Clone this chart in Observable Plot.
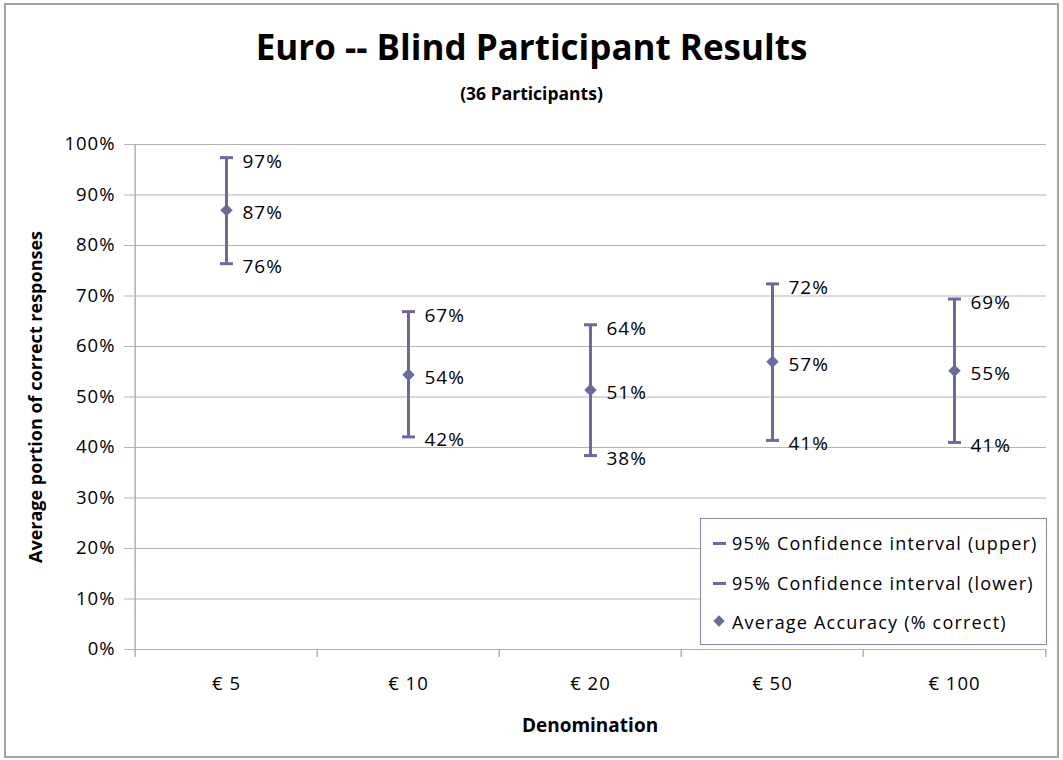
<!DOCTYPE html>
<html>
<head>
<meta charset="utf-8">
<script src="https://cdn.jsdelivr.net/npm/d3@7"></script>
<script src="https://cdn.jsdelivr.net/npm/@observablehq/plot@0.6"></script>
<style>
  html, body { margin: 0; padding: 0; background: #fff; }
  #wrap { position: relative; width: 1063px; height: 760px; overflow: hidden; font-family: "Open Sans", sans-serif; color: #000; }
  #border { position: absolute; left: 4px; top: 3px; width: 1055px; height: 755px; box-sizing: border-box; border: 2px solid #a3a3a3; pointer-events: none; }
  #title { position: absolute; left: 0; width: 1063px; top: 27px; text-align: center; font-weight: 700; font-size: 35px; line-height: 40px; }
  #subtitle { position: absolute; left: 0; width: 1063px; top: 81px; text-align: center; font-weight: 700; font-size: 17.5px; line-height: 24px; }
  #chart { position: absolute; left: 0; top: 0; }
  #chart svg text { letter-spacing: 1px; }
  #chart svg g[font-weight="bold"] text { letter-spacing: 0; }
  #legend { position: absolute; left: 700px; top: 518px; width: 347px; height: 127px; box-sizing: border-box; border: 1.5px solid #8585b5; background: #fff; }
  .row { position: absolute; left: 0; height: 30px; line-height: 30px; font-size: 18px; letter-spacing: 1.2px; white-space: nowrap; }
  .row .txt { position: absolute; left: 31px; top: 0; }
  .dash { position: absolute; left: 12px; top: 14px; width: 13px; height: 3px; }
  .diam { position: absolute; left: 14px; top: 10px; width: 8px; height: 8px; transform: rotate(45deg); }
</style>
</head>
<body>
<div id="wrap">
  <div id="chart"></div>
  <div id="title"></div>
  <div id="subtitle"></div>
  <div id="legend"></div>
  <div id="border"></div>
</div>
<script>
// ---- data ----
const titleText = "Euro -- Blind Participant Results";
const subtitleText = "(36 Participants)";
const xTitle = "Denomination";
const yTitle = "Average portion of correct responses";
const categories = ["€ 5", "€ 10", "€ 20", "€ 50", "€ 100"];
const upperCI = [0.974, 0.669, 0.643, 0.724, 0.694];
const meanAcc = [0.870, 0.544, 0.514, 0.570, 0.552];
const lowerCI = [0.764, 0.421, 0.384, 0.414, 0.410];
const yTicks = [0, 0.1, 0.2, 0.3, 0.4, 0.5, 0.6, 0.7, 0.8, 0.9, 1.0];
const legendLabels = [
  "95% Confidence interval (upper)",
  "95% Confidence interval (lower)",
  "Average Accuracy (% correct)"
];

// ---- build ----
const color = "#6a6a9f";
const gridColor = "#b3b3b3";
const rows = categories.map((c, i) => ({denom: c, upper: upperCI[i], mean: meanAcc[i], lower: lowerCI[i]}));
const fmt = d3.format(".0%");

const W = 1063, H = 760;
const mL = 133, mR = 17, mT = 144, mB = 111;
const step = (W - mL - mR) / categories.length;

const capSymbol = {
  draw(ctx, size) {
    const r = Math.sqrt(size / Math.PI);
    ctx.moveTo(-r, 0);
    ctx.lineTo(r, 0);
  }
};

const plot = Plot.plot({
  width: W,
  height: H,
  marginLeft: mL,
  marginRight: mR,
  marginTop: mT,
  marginBottom: mB,
  style: {fontFamily: "'Open Sans', sans-serif", fontSize: "18px", color: "#000", background: "transparent"},
  x: {type: "band", domain: categories, padding: 0, axis: null},
  y: {domain: [0, 1], axis: null},
  marks: [
    Plot.gridY(yTicks, {stroke: gridColor, strokeOpacity: 1, strokeWidth: 1.2}),
    // left axis line
    Plot.ruleX([categories[0]], {dx: -step / 2, stroke: gridColor, strokeWidth: 1.5}),
    // y axis
    Plot.axisY({ticks: yTicks, tickFormat: fmt, tickSize: 9, tickPadding: 9, stroke: gridColor, fill: "#000", fontSize: 18.5, label: null}),
    // x category labels
    Plot.axisX({tickSize: 0, tickPadding: 27, fill: "#000", fontSize: 18.5, label: null}),
    // x boundary ticks
    Plot.axisX({ticks: categories, tickFormat: () => "", tickSize: 8, dx: -step / 2, stroke: gridColor, strokeWidth: 1.5, label: null}),
    Plot.axisX({ticks: [categories[categories.length - 1]], tickFormat: () => "", tickSize: 8, dx: step / 2, stroke: gridColor, strokeWidth: 1.5, label: null}),
    // axis titles
    Plot.text([xTitle], {frameAnchor: "bottom", dy: 82, fontWeight: "bold", fontSize: 19, fill: "#000"}),
    Plot.text([yTitle], {frameAnchor: "left", textAnchor: "middle", rotate: -90, dx: -97, fontWeight: "bold", fontSize: 18, fill: "#000"}),
    // error bars
    Plot.ruleX(rows, {x: "denom", y1: "lower", y2: "upper", stroke: color, strokeWidth: 3}),
    Plot.dot(rows, {x: "denom", y: "upper", symbol: capSymbol, r: 6.5, stroke: color, strokeWidth: 3}),
    Plot.dot(rows, {x: "denom", y: "lower", symbol: capSymbol, r: 6.5, stroke: color, strokeWidth: 3}),
    Plot.dot(rows, {x: "denom", y: "mean", symbol: "diamond2", r: 5.6, fill: color, stroke: "none"}),
    // data labels
    Plot.text(rows, {x: "denom", y: "upper", text: d => fmt(d.upper), textAnchor: "start", dx: 16, dy: 4, fontSize: 19, fill: "#000"}),
    Plot.text(rows, {x: "denom", y: "mean", text: d => fmt(d.mean), textAnchor: "start", dx: 16, dy: 3, fontSize: 19, fill: "#000"}),
    Plot.text(rows, {x: "denom", y: "lower", text: d => fmt(d.lower), textAnchor: "start", dx: 16, dy: 3, fontSize: 19, fill: "#000"})
  ]
});
document.getElementById("chart").appendChild(plot);
document.getElementById("title").textContent = titleText;
document.getElementById("subtitle").textContent = subtitleText;

// legend
const legend = document.getElementById("legend");
legendLabels.forEach((lab, i) => {
  const row = document.createElement("div");
  row.className = "row";
  row.style.top = (9 + i * 39.5) + "px";
  const m = document.createElement("span");
  m.className = i < 2 ? "dash" : "diam";
  m.style.background = color;
  const t = document.createElement("span");
  t.className = "txt";
  t.textContent = lab;
  row.appendChild(m);
  row.appendChild(t);
  legend.appendChild(row);
});
</script>
</body>
</html>
